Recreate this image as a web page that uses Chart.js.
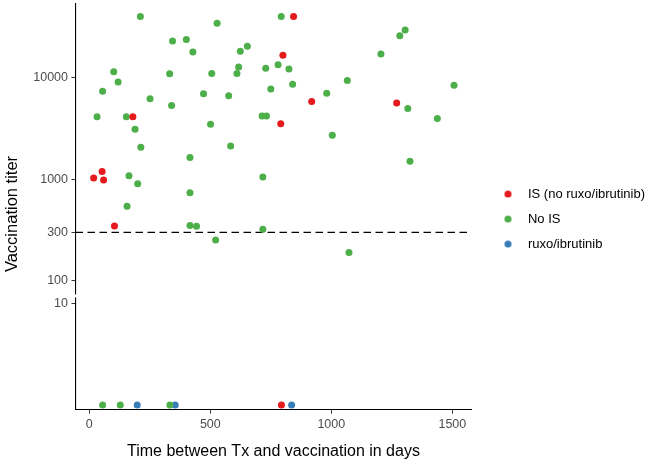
<!DOCTYPE html>
<html>
<head>
<meta charset="utf-8">
<script src="https://cdn.jsdelivr.net/npm/chart.js@4"></script>
<style>
body { margin: 0; background: #fff; }
</style>
</head>
<body>
<canvas id="grafico" width="647" height="461"></canvas>
<script>
// groups and colours (Set1)
var groups = ['IS (no ruxo/ibrutinib)', 'No IS', 'ruxo/ibrutinib'];
var colors = ['#E41A1C', '#4DAF4A', '#377EB8'];

// titers above detection (upper panel)
var isDays  = [18, 53, 59, 104, 180, 791, 800, 844, 919, 1270];
var isTiter = [1030, 1190, 985, 347, 4130, 3520, 16600, 40100, 5820, 5620];

var noIsDays  = [211, 528, 344, 401, 428, 653, 624, 617, 610, 506, 332, 101, 119, 55, 251, 472, 576, 340,
                 32, 153, 189, 501, 213, 584, 416, 164, 200, 416, 793, 1305, 1283, 1205, 729, 780, 825, 840,
                 750, 1066, 1507, 981, 1316, 1438, 714, 732, 1004, 1325, 717, 156, 416, 443, 522, 717, 1073];
var noIsTiter = [40100, 34300, 22900, 23700, 17900, 20400, 18200, 12700, 11000, 11000, 10900, 11400, 9080, 7360, 6200, 6930, 6620, 5320,
                 4130, 4130, 3100, 3480, 2060, 2120, 1640, 1080, 900, 734, 40100, 29400, 25900, 17100, 12400, 13400, 12200, 8610,
                 7710, 9350, 8430, 7040, 4980, 3970, 4200, 4200, 2710, 1500, 1050, 541, 350, 345, 252, 322, 190];

// titers below detection (lower panel)
var lowTiter = 1;
var lowIsDays   = [794];
var lowNoIsDays = [55, 128, 333];
var lowRuxoDays = [198, 355, 836];

var cutoff = 300;
var xTicks = [0, 500, 1000, 1500];
var yTicksTop = [100, 300, 1000, 10000];
var yTicksLow = [10];

function pts(xs, ys) {
  return xs.map(function (x, i) { return { x: x, y: Array.isArray(ys) ? ys[i] : ys }; });
}

function dot(color) {
  var c = document.createElement('canvas');
  c.width = 38; c.height = 8;
  var g = c.getContext('2d');
  g.fillStyle = color;
  g.beginPath();
  g.arc(24.5, 4, 3.5, 0, Math.PI * 2);
  g.fill();
  return c;
}

function serie(label, data, color, axis) {
  return {
    label: label, data: data, yAxisID: axis,
    backgroundColor: color, borderColor: color,
    pointRadius: 3.5, pointHoverRadius: 3.5, pointBorderWidth: 0, showLine: false
  };
}

var tickFont = { family: 'Liberation Sans, Arial, sans-serif', size: 12.5 };

function noPad(s) {
  s.paddingTop = 0; s.paddingBottom = 0; s.paddingLeft = 0; s.paddingRight = 0;
}

function yAxis(min, max, ticks, weight) {
  return {
    type: 'logarithmic', position: 'left', stack: 'titer', stackWeight: weight,
    min: min, max: max,
    afterBuildTicks: function (s) { s.ticks = ticks.map(function (v) { return { value: v }; }); },
    afterFit: function (s) { s.width = 75.5; noPad(s); },
    grid: { display: true, drawOnChartArea: false, tickLength: 4, tickColor: '#333' },
    border: { display: true, color: '#000', width: 1.1 },
    ticks: { autoSkip: false, color: '#4d4d4d', font: tickFont, padding: 3.5,
             callback: function (v) { return String(v); } }
  };
}

var extras = {
  id: 'extras',
  beforeDatasetsDraw: function (chart) {
    var ctx = chart.ctx, a = chart.chartArea, y = chart.scales.yTop.getPixelForValue(cutoff);
    ctx.save();
    ctx.strokeStyle = '#000';
    ctx.lineWidth = 1.1;
    ctx.setLineDash([7.5, 4.5]);
    ctx.beginPath();
    ctx.moveTo(a.left, y);
    ctx.lineTo(a.right, y);
    ctx.stroke();
    ctx.restore();
  },
  afterDraw: function (chart) {
    var ctx = chart.ctx, a = chart.chartArea;
    var top = chart.scales.yTop;
    ctx.save();
    // axis break
    ctx.fillStyle = '#fff';
    ctx.fillRect(a.left - 2, top.bottom - 1.5, 4, 3);
    // y title
    ctx.fillStyle = '#000';
    ctx.font = '16.5px Liberation Sans, Arial, sans-serif';
    ctx.textAlign = 'center';
    ctx.textBaseline = 'middle';
    ctx.translate(12, 214);
    ctx.rotate(-Math.PI / 2);
    ctx.fillText('Vaccination titer', 0, 0);
    ctx.restore();
  }
};

var ctx = document.getElementById('grafico');

var ChartGraph = new Chart(ctx, {
  type: 'scatter',
  data: {
    datasets: [
      serie(groups[0], pts(isDays, isTiter), colors[0], 'yTop'),
      serie(groups[1], pts(noIsDays, noIsTiter), colors[1], 'yTop'),
      serie(groups[2], [], colors[2], 'yTop'),
      serie(groups[0], pts(lowIsDays, lowTiter), colors[0], 'yLow'),
      serie(groups[1], pts(lowNoIsDays, lowTiter), colors[1], 'yLow'),
      serie(groups[2], pts(lowRuxoDays, lowTiter), colors[2], 'yLow')
    ]
  },
  options: {
    responsive: false,
    animation: false,
    events: [],
    layout: { padding: { top: -3, left: 0, bottom: 0, right: -8 } },
    scales: {
      x: {
        type: 'linear', min: -57, max: 1579,
        afterBuildTicks: function (s) { s.ticks = xTicks.map(function (v) { return { value: v }; }); },
        afterFit: noPad,
        grid: { display: true, drawOnChartArea: false, tickLength: 4, tickColor: '#333' },
        border: { display: true, color: '#000', width: 1.1 },
        ticks: { color: '#4d4d4d', font: tickFont, padding: 3, maxRotation: 0,
                 callback: function (v) { return String(v); } },
        title: { display: true, text: 'Time between Tx and vaccination in days', color: '#000',
                 font: { family: 'Liberation Sans, Arial, sans-serif', size: 16 }, padding: { top: 7.2, bottom: 0 } }
      },
      yLow: yAxis(0.9, 11.86, yTicksLow, 114.5),
      yTop: yAxis(71, 53700, yTicksTop, 294.5)
    },
    plugins: {
      tooltip: { enabled: false },
      legend: {
        position: 'right',
        fullSize: false,
        maxWidth: 220,
        title: { display: true, text: '', padding: { top: 10.6, bottom: 0 } },
        labels: {
          usePointStyle: true,
          pointStyleWidth: 38,
          boxHeight: 8,
          padding: 12,
          color: '#000',
          font: { family: 'Liberation Sans, Arial, sans-serif', size: 13 },
          filter: function (item) { return item.datasetIndex < 3; },
          generateLabels: function (chart) {
            var items = Chart.defaults.plugins.legend.labels.generateLabels(chart);
            items.forEach(function (it) { it.pointStyle = dot(colors[it.datasetIndex % 3]); });
            return items;
          }
        }
      }
    }
  },
  plugins: [extras]
});
</script>
</body>
</html>
